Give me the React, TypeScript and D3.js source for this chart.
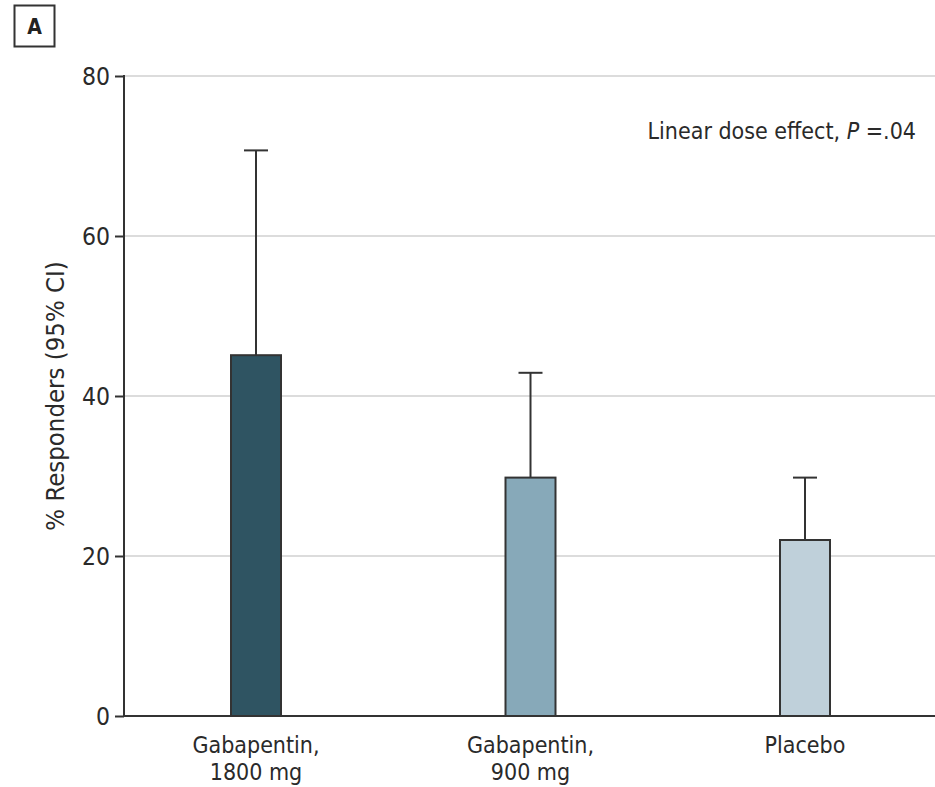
import React, { useRef, useEffect } from "react";
import * as d3 from "d3";

const categories = ["Gabapentin,\n1800 mg", "Gabapentin,\n900 mg", "Placebo"];
const responders = [45.1, 29.8, 22];
const upperCI = [70.7, 42.9, 29.8];
const barColors = ["#2f5462", "#87a9b9", "#bfd0da"];
const yTicks = [0, 20, 40, 60, 80];

const W = 935;
const H = 787;
const font = "'DejaVu Sans Condensed', 'DejaVu Sans', sans-serif";

export default function App() {
  const svgRef = useRef<SVGSVGElement>(null);

  useEffect(() => {
    const svg = d3.select(svgRef.current);
    svg.selectAll("*").remove();

    const y = d3.scaleLinear().domain([0, 80]).range([716, 76]);
    const x = d3.scalePoint<string>().domain(categories).range([118.75, 942.25]).padding(0.5);
    const barW = 50;
    const capW = 24;

    // panel label
    svg.append("rect").attr("x", 14.5).attr("y", 5.5).attr("width", 40).attr("height", 41)
      .attr("fill", "none").attr("stroke", "#333").attr("stroke-width", 2);
    svg.append("text").attr("x", 34.5).attr("y", 33.5).attr("text-anchor", "middle")
      .attr("font-family", font).attr("font-weight", "bold").attr("font-size", 21)
      .attr("fill", "#222").text("A");

    // gridlines
    svg.append("g").selectAll("line").data(yTicks.filter(d => d > 0)).join("line")
      .attr("x1", 124).attr("x2", W).attr("y1", d => y(d)).attr("y2", d => y(d))
      .attr("stroke", "#dcdcdc").attr("stroke-width", 2);

    // y axis
    const yAxis = svg.append("g").attr("transform", "translate(124,0)")
      .call(d3.axisLeft(y).tickValues(yTicks).tickSize(9).tickPadding(5));
    yAxis.select(".domain").remove();
    yAxis.selectAll(".tick line").attr("stroke", "#333").attr("stroke-width", 2);
    yAxis.selectAll(".tick text").attr("font-family", font).attr("font-size", 24.5)
      .attr("fill", "#2a2a2a").attr("dy", "0.36em");
    svg.append("line").attr("x1", 124).attr("x2", 124).attr("y1", 75).attr("y2", 717)
      .attr("stroke", "#333").attr("stroke-width", 2);

    // error bars
    const err = svg.append("g").selectAll("g").data(categories).join("g");
    err.append("line").attr("x1", d => x(d)!).attr("x2", d => x(d)!)
      .attr("y1", (d, i) => y(responders[i])).attr("y2", (d, i) => y(upperCI[i]))
      .attr("stroke", "#333").attr("stroke-width", 2);
    err.append("line").attr("x1", d => x(d)! - capW / 2).attr("x2", d => x(d)! + capW / 2)
      .attr("y1", (d, i) => y(upperCI[i])).attr("y2", (d, i) => y(upperCI[i]))
      .attr("stroke", "#333").attr("stroke-width", 2);

    // bars
    svg.append("g").selectAll("rect").data(categories).join("rect")
      .attr("x", d => x(d)! - barW / 2).attr("width", barW)
      .attr("y", (d, i) => y(responders[i])).attr("height", (d, i) => y(0) - y(responders[i]))
      .attr("fill", (d, i) => barColors[i]).attr("stroke", "#333").attr("stroke-width", 2);

    // x axis
    svg.append("line").attr("x1", 123).attr("x2", W).attr("y1", y(0)).attr("y2", y(0))
      .attr("stroke", "#333").attr("stroke-width", 2);

    const xl = svg.append("g").selectAll("text").data(categories).join("text")
      .attr("x", d => x(d)!).attr("y", 753).attr("text-anchor", "middle")
      .attr("font-family", font).attr("font-size", 23).attr("fill", "#2a2a2a");
    xl.selectAll("tspan").data(d => d.split("\n")).join("tspan")
      .attr("x", function () { return (this as any).parentNode.getAttribute("x"); })
      .attr("dy", (d, i) => (i === 0 ? 0 : 27)).text(d => d);

    // y title
    svg.append("text").attr("transform", `translate(64,${y(40)}) rotate(-90)`)
      .attr("text-anchor", "middle").attr("font-family", font).attr("font-size", 25.5)
      .attr("fill", "#2a2a2a").text("% Responders (95% CI)");

    // annotation
    const ann = svg.append("text").attr("x", 916).attr("y", 139).attr("text-anchor", "end")
      .attr("font-family", font).attr("font-size", 23).attr("fill", "#2a2a2a");
    ann.append("tspan").text("Linear dose effect, ");
    ann.append("tspan").attr("font-style", "italic").text("P");
    ann.append("tspan").text(" =.04");
  }, []);

  return (
    <svg ref={svgRef} width={W} height={H} style={{ position: "absolute", left: 0, top: 0 }} />
  );
}
